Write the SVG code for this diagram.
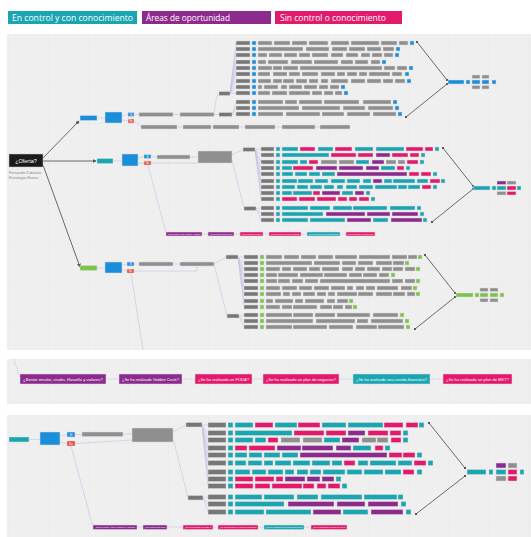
<svg xmlns="http://www.w3.org/2000/svg" width="531" height="537" viewBox="0 0 531 537">
<defs>
<style>
.t{fill:#1aa5b3}.p{fill:#8d2a8e}.k{fill:#e3196b}.g{fill:#8f8f8f}.l{fill:#777}.b{fill:#1a8ddb}.r{fill:#e8473a}.n{fill:#7cc34a}
.row rect,.box{stroke:#dcdcdc;stroke-width:.5}
.lc{stroke:#c3c3e6;stroke-width:.6;fill:none}
.dc{stroke:#c3c3e6;stroke-width:.9;stroke-dasharray:1.2 1;fill:none}
.mc{stroke:#5a5a5a;stroke-width:.9;fill:none}
.wt{fill:#fff;font-family:"Liberation Sans",Arial,sans-serif}
.lg{fill:#fff;font-family:"Open Sans","Liberation Sans",sans-serif;font-size:9px}
</style>
<pattern id="grid" patternUnits="userSpaceOnUse" x="8" y="3" width="40" height="40"><path d="M0 0V40M0 0H40" stroke="#e2e2e2" stroke-width=".6" fill="none"/></pattern>
<marker id="ah" viewBox="0 0 6 6" refX="5" refY="3" markerUnits="userSpaceOnUse" markerWidth="4" markerHeight="4" orient="auto"><path d="M0 0L6 3L0 6z" fill="#555"/></marker>
<marker id="sq" viewBox="0 0 4 4" refX="2" refY="2" markerUnits="userSpaceOnUse" markerWidth="2.4" markerHeight="2.4"><rect width="4" height="4" fill="#555"/></marker>
</defs>
<rect width="531" height="537" fill="#fff"/>
<!-- legend -->
<g id="legend">
<rect class="t" x="8" y="11" width="129" height="13"/><text class="lg" x="12" y="20.5" textLength="121" lengthAdjust="spacingAndGlyphs">En control y con conocimiento</text>
<rect class="p" x="142" y="11" width="129" height="13"/><text class="lg" x="146" y="20.5" textLength="84" lengthAdjust="spacingAndGlyphs">Áreas de oportunidad</text>
<rect class="k" x="275" y="11" width="127" height="13"/><text class="lg" x="280" y="20.5" textLength="106" lengthAdjust="spacingAndGlyphs">Sin control o conocimiento</text>
</g>
<!-- panels -->
<rect x="7" y="34" width="524" height="316" fill="#efefef"/><rect x="7" y="34" width="524" height="316" fill="url(#grid)"/>
<rect x="7" y="359" width="524" height="45" fill="#efefef"/><rect x="7" y="359" width="524" height="45" fill="url(#grid)"/>
<rect x="7" y="415" width="524" height="122" fill="#efefef"/><rect x="7" y="415" width="524" height="122" fill="url(#grid)"/>

<g id="connectors">
<!-- main -->
<path class="mc" d="M43 158L79 121" marker-end="url(#ah)"/>
<path class="mc" d="M43 161H96" marker-end="url(#ah)"/>
<path class="mc" d="M43 165L80 267" marker-end="url(#ah)"/>
<!-- upper -->
<path class="lc" d="M97 118H105M122 116L128 114.5M122 120L128 121M134 114.5H139M173 114.5H180M214 114.5H219M214 114.5Q216 94 219 93.5M134 121L141 127M177 127H183M211 127H213M239 127H245M275 127H282M315 127H320"/>
<path class="lc" d="M230 93.5L236 43M230 93.5L236 49M230 93.5L236 55M230 93.5L236 62M230 93.5L236 68M230 93.5L236 74M230 93.5L236 81M230 93.5L236 87M230 93.5L236 93M232 114.5L236 102M232 114.5L236 108M232 114.5L236 114"/>
<path class="mc" d="M417 42L447 80" marker-start="url(#sq)" marker-end="url(#sq)"/>
<path class="mc" d="M406 117L447 84" marker-start="url(#sq)" marker-end="url(#sq)"/>
<!-- teal -->
<path class="lc" d="M113 161H122M138 158L144 156.5M138 163L144 163M151 156.5L157 157M190 157H198M151 163H198M148 165L166 233M232 155L243 149.5M232 160L244 208.5"/>
<path class="lc" d="M255 149.5L261 149M255 149.5L261 155M255 149.5L261 162M255 149.5L261 168M255 149.5L261 174M255 149.5L261 181M255 149.5L261 187M255 149.5L261 193M255 149.5L261 199M256 208.5L261 208M256 208.5L261 214M256 208.5L261 220"/>
<path class="dc" d="M202 234H208M234 234H240M263 234H269M301 234H307M340 234H346"/>
<path class="mc" d="M443 148L473 186" marker-start="url(#sq)" marker-end="url(#sq)"/>
<path class="mc" d="M432 222L473 189" marker-start="url(#sq)" marker-end="url(#sq)"/>
<!-- green -->
<path class="lc" d="M97 268H105M122 265L127 264M122 270L127 271M134 264H139M173 264H180M134 271H197V266M214 264L226 257M214 264L227 316M131 273L143 350"/>
<path class="lc" d="M238 257L244 257M238 257L244 263M238 257L244 269M238 257L244 275M238 257L244 281M238 257L244 288M238 257L244 294M238 257L244 301M238 257L244 307M239 316L244 315M239 316L244 321M239 316L244 327"/>
<path class="mc" d="M425 255L455 293" marker-start="url(#sq)" marker-end="url(#sq)"/>
<path class="mc" d="M415 329L455 297" marker-start="url(#sq)" marker-end="url(#sq)"/>
<!-- panel 2 -->
<path class="dc" d="M14 359L20 378M106 379H119M182 379H195M252 379H263M339 379H353M430 379H443"/>
<!-- panel 3 -->
<path class="lc" d="M29 439.5H40M60 436L67 434.5M60 442L67 443.5M75 434.5H82M123 434H132M75 443.5L132 440M71 446L93 527M173 432L186 425M173 438L188 498"/>
<path class="lc" d="M202 425L208 425M202 425L208 433M202 425L208 440M202 425L208 448M202 425L208 455M202 425L208 463M202 425L208 472M202 425L208 479M202 425L208 486M203 498L208 497M203 498L208 504M203 498L208 512"/>
<path class="dc" d="M137 527H143M167 527H183M213 527H218M258 527H264M304 527H311"/>
<path class="mc" d="M429 423L465 468" marker-start="url(#sq)" marker-end="url(#sq)"/>
<path class="mc" d="M416 514L465 476" marker-start="url(#sq)" marker-end="url(#sq)"/>
</g>

<!-- root -->
<g id="oferta">
<rect x="9" y="154" width="34" height="13" fill="#1b1b1b" stroke="#ccc" stroke-width=".5"/>
<text class="wt" x="26" y="162.5" font-size="5.5" text-anchor="middle">¿Oferta?</text>
<text x="9" y="174" font-size="3.8" fill="#8a8a8a" font-family="Liberation Sans,Arial,sans-serif">Fernando Zubiarán</text>
<text x="9" y="179" font-size="3.8" fill="#8a8a8a" font-family="Liberation Sans,Arial,sans-serif">Estrategia Nueva</text>
</g>

<!-- UPPER (blue) branch -->
<g id="upper-node"><rect class="b box" x="80" y="115.5" width="17" height="5"/></g>
<g id="upper-q"><rect class="b box" x="105" y="112" width="17" height="11"/></g>
<g id="upper-si"><rect class="b box" x="128" y="112.5" width="6" height="4"/><text class="wt" x="131" y="115.6" font-size="2.8" text-anchor="middle">Sí</text></g>
<g id="upper-no"><rect class="r box" x="128" y="119" width="6" height="4"/><text class="wt" x="131" y="122.1" font-size="2.8" text-anchor="middle">No</text></g>
<g id="upper-chain" class="row"><rect class="g" x="139" y="112.5" width="34" height="4"/><rect class="g" x="180" y="112.5" width="34" height="4"/><rect class="l" x="219" y="112.5" width="13" height="4"/><rect class="l" x="219" y="91.5" width="11" height="4"/></g>
<g id="upper-no-chain" class="row"><rect class="g" x="141" y="125" width="36" height="4"/><rect class="g" x="183" y="125" width="28" height="4"/><rect class="g" x="213" y="125" width="26" height="4"/><rect class="g" x="245" y="125" width="30" height="4"/><rect class="g" x="282" y="125" width="33" height="4"/><rect class="g" x="320" y="125" width="30" height="4"/></g>
<g id="u1" class="row" transform="translate(0,41)"><rect class="l" x="236" width="14" height="4"/><rect class="b" x="252" width="4" height="4"/><rect class="g" x="258" width="14" height="4"/><rect class="g" x="274" width="16" height="4"/><rect class="g" x="292" width="15" height="4"/><rect class="g" x="309" width="19" height="4"/><rect class="g" x="331" width="18" height="4"/><rect class="g" x="351" width="28" height="4"/><rect class="g" x="381" width="16" height="4"/><rect class="g" x="399" width="9" height="4"/><rect class="b" x="410" width="4" height="4"/></g>
<g id="u2" class="row" transform="translate(0,47)"><rect class="l" x="236" width="14" height="4"/><rect class="b" x="252" width="4" height="4"/><rect class="g" x="258" width="45" height="4"/><rect class="g" x="306" width="23" height="4"/><rect class="g" x="332" width="15" height="4"/><rect class="g" x="349" width="16" height="4"/><rect class="g" x="367" width="14" height="4"/><rect class="g" x="383" width="11" height="4"/><rect class="b" x="396" width="4" height="4"/></g>
<g id="u3" class="row" transform="translate(0,53)"><rect class="l" x="236" width="14" height="4"/><rect class="b" x="252" width="4" height="4"/><rect class="g" x="258" width="9" height="4"/><rect class="g" x="269" width="13" height="4"/><rect class="g" x="284" width="13" height="4"/><rect class="g" x="299" width="11" height="4"/><rect class="g" x="312" width="16" height="4"/><rect class="g" x="331" width="12" height="4"/><rect class="g" x="346" width="12" height="4"/><rect class="g" x="361" width="9" height="4"/><rect class="g" x="372" width="10" height="4"/><rect class="g" x="384" width="9" height="4"/><rect class="b" x="395" width="4" height="4"/></g>
<g id="u4" class="row" transform="translate(0,60)"><rect class="l" x="236" width="14" height="4"/><rect class="b" x="252" width="4" height="4"/><rect class="g" x="258" width="8" height="4"/><rect class="g" x="268" width="20" height="4"/><rect class="g" x="291" width="21" height="4"/><rect class="g" x="314" width="24" height="4"/><rect class="g" x="341" width="12" height="4"/><rect class="g" x="355" width="13" height="4"/><rect class="g" x="371" width="9" height="4"/><rect class="b" x="382" width="4" height="4"/></g>
<g id="u5" class="row" transform="translate(0,66)"><rect class="l" x="236" width="14" height="4"/><rect class="b" x="252" width="4" height="4"/><rect class="g" x="258" width="14" height="4"/><rect class="g" x="273" width="9" height="4"/><rect class="g" x="283" width="15" height="4"/><rect class="g" x="300" width="82" height="4"/><rect class="g" x="384" width="11" height="4"/><rect class="g" x="397" width="10" height="4"/><rect class="b" x="409" width="4" height="4"/></g>
<g id="u6" class="row" transform="translate(0,72)"><rect class="l" x="236" width="14" height="4"/><rect class="b" x="252" width="4" height="4"/><rect class="g" x="258" width="12" height="4"/><rect class="g" x="273" width="14" height="4"/><rect class="g" x="289" width="11" height="4"/><rect class="g" x="302" width="16" height="4"/><rect class="g" x="321" width="14" height="4"/><rect class="g" x="337" width="8" height="4"/><rect class="g" x="347" width="10" height="4"/><rect class="g" x="359" width="8" height="4"/><rect class="g" x="369" width="21" height="4"/><rect class="g" x="392" width="10" height="4"/><rect class="b" x="405" width="4" height="4"/></g>
<g id="u7" class="row" transform="translate(0,79)"><rect class="l" x="236" width="14" height="4"/><rect class="b" x="252" width="4" height="4"/><rect class="g" x="258" width="13" height="4"/><rect class="g" x="273" width="9" height="4"/><rect class="g" x="283" width="11" height="4"/><rect class="g" x="296" width="11" height="4"/><rect class="g" x="309" width="9" height="4"/><rect class="g" x="321" width="7" height="4"/><rect class="g" x="331" width="17" height="4"/><rect class="g" x="351" width="14" height="4"/><rect class="g" x="367" width="14" height="4"/><rect class="g" x="383" width="10" height="4"/><rect class="g" x="395" width="10" height="4"/><rect class="b" x="407" width="4" height="4"/></g>
<g id="u8" class="row" transform="translate(0,85)"><rect class="l" x="236" width="14" height="4"/><rect class="b" x="252" width="4" height="4"/><rect class="g" x="258" width="4" height="4"/><rect class="g" x="264" width="14" height="4"/><rect class="g" x="281" width="6" height="4"/><rect class="g" x="289" width="13" height="4"/><rect class="g" x="304" width="13" height="4"/><rect class="g" x="319" width="9" height="4"/><rect class="g" x="330" width="9" height="4"/><rect class="b" x="341" width="4" height="4"/></g>
<g id="u9" class="row" transform="translate(0,91)"><rect class="l" x="236" width="14" height="4"/><rect class="b" x="252" width="4" height="4"/><rect class="g" x="258" width="12" height="4"/><rect class="g" x="272" width="15" height="4"/><rect class="g" x="289" width="21" height="4"/><rect class="g" x="312" width="10" height="4"/><rect class="g" x="324" width="9" height="4"/><rect class="g" x="335" width="7" height="4"/><rect class="b" x="344" width="4" height="4"/></g>
<g id="u10" class="row" transform="translate(0,100)"><rect class="l" x="236" width="14" height="4"/><rect class="b" x="252" width="4" height="4"/><rect class="g" x="258" width="25" height="4"/><rect class="g" x="285" width="12" height="4"/><rect class="g" x="299" width="23" height="4"/><rect class="g" x="324" width="35" height="4"/><rect class="g" x="363" width="28" height="4"/><rect class="b" x="393" width="4" height="4"/></g>
<g id="u11" class="row" transform="translate(0,106)"><rect class="l" x="236" width="14" height="4"/><rect class="b" x="252" width="4" height="4"/><rect class="g" x="258" width="41" height="4"/><rect class="g" x="302" width="38" height="4"/><rect class="g" x="343" width="22" height="4"/><rect class="g" x="368" width="25" height="4"/><rect class="b" x="395" width="4" height="4"/></g>
<g id="u12" class="row" transform="translate(0,112)"><rect class="l" x="236" width="14" height="4"/><rect class="b" x="252" width="4" height="4"/><rect class="g" x="258" width="25" height="4"/><rect class="g" x="286" width="34" height="4"/><rect class="g" x="322" width="22" height="4"/><rect class="g" x="347" width="23" height="4"/><rect class="g" x="373" width="23" height="4"/><rect class="b" x="398" width="4" height="4"/></g>
<g id="upper-summary" class="row"><rect class="b" x="448" y="80" width="16" height="4"/><rect class="b" x="466" y="80" width="4" height="4"/><rect class="g" x="472" y="75" width="8" height="3.5"/><rect class="g" x="482" y="75" width="7" height="3.5"/><rect class="b" x="472" y="80" width="8" height="4"/><rect class="b" x="482" y="80" width="7" height="4"/><rect class="g" x="472" y="85.5" width="8" height="3.5"/><rect class="g" x="482" y="85.5" width="7" height="3.5"/><rect class="b" x="492" y="80" width="4" height="4"/></g>

<!-- MIDDLE (teal) branch -->
<g id="mid-node"><rect class="t box" x="97" y="158.5" width="16" height="5"/></g>
<g id="mid-q"><rect class="b box" x="122" y="154" width="16" height="12"/></g>
<g id="mid-si"><rect class="b box" x="144" y="154.5" width="7" height="4"/><text class="wt" x="147.5" y="157.6" font-size="2.8" text-anchor="middle">Sí</text></g>
<g id="mid-no"><rect class="r box" x="144" y="161" width="7" height="4"/><text class="wt" x="147.5" y="164.1" font-size="2.8" text-anchor="middle">No</text></g>
<g id="mid-chain" class="row"><rect class="g" x="157" y="155" width="33" height="4"/><rect class="g" x="198" y="151" width="34" height="12"/><rect class="l" x="243" y="147.5" width="12" height="4"/><rect class="l" x="244" y="206.5" width="12" height="4"/></g>
<g id="s1" class="row" transform="translate(0,147)"><rect class="l" x="261" width="13" height="4"/><rect class="t" x="276" width="4" height="4"/><rect class="t" x="282" width="16" height="4"/><rect class="k" x="300" width="15" height="4"/><rect class="t" x="318" width="15" height="4"/><rect class="k" x="335" width="17" height="4"/><rect class="t" x="355" width="18" height="4"/><rect class="t" x="376" width="28" height="4"/><rect class="k" x="406" width="17" height="4"/><rect class="k" x="425" width="8" height="4"/><rect class="t" x="435" width="4" height="4"/></g>
<g id="s2" class="row" transform="translate(0,153)"><rect class="l" x="261" width="13" height="4"/><rect class="t" x="276" width="4" height="4"/><rect class="t" x="282" width="47" height="4"/><rect class="k" x="331" width="25" height="4"/><rect class="k" x="358" width="15" height="4"/><rect class="p" x="376" width="14" height="4"/><rect class="k" x="392" width="16" height="4"/><rect class="k" x="410" width="9" height="4"/><rect class="t" x="421" width="4" height="4"/></g>
<g id="s3" class="row" transform="translate(0,160)"><rect class="l" x="261" width="13" height="4"/><rect class="t" x="276" width="4" height="4"/><rect class="t" x="282" width="16" height="4"/><rect class="t" x="300" width="7" height="4"/><rect class="k" x="309" width="9" height="4"/><rect class="g" x="321" width="16" height="4"/><rect class="g" x="339" width="15" height="4"/><rect class="t" x="356" width="13" height="4"/><rect class="p" x="372" width="12" height="4"/><rect class="g" x="386" width="10" height="4"/><rect class="g" x="398" width="7" height="4"/><rect class="k" x="407" width="11" height="4"/><rect class="t" x="420" width="4" height="4"/></g>
<g id="s4" class="row" transform="translate(0,166)"><rect class="l" x="261" width="13" height="4"/><rect class="t" x="276" width="4" height="4"/><rect class="t" x="282" width="10" height="4"/><rect class="k" x="293" width="20" height="4"/><rect class="p" x="316" width="21" height="4"/><rect class="p" x="339" width="24" height="4"/><rect class="p" x="366" width="13" height="4"/><rect class="t" x="381" width="14" height="4"/><rect class="k" x="397" width="7" height="4"/><rect class="t" x="406" width="4" height="4"/></g>
<g id="s5" class="row" transform="translate(0,172)"><rect class="l" x="261" width="13" height="4"/><rect class="t" x="276" width="4" height="4"/><rect class="t" x="282" width="11" height="4"/><rect class="t" x="295" width="12" height="4"/><rect class="t" x="309" width="11" height="4"/><rect class="t" x="322" width="13" height="4"/><rect class="p" x="337" width="70" height="4"/><rect class="k" x="409" width="10" height="4"/><rect class="k" x="421" width="10" height="4"/><rect class="t" x="433" width="4" height="4"/></g>
<g id="s6" class="row" transform="translate(0,179)"><rect class="l" x="261" width="13" height="4"/><rect class="t" x="276" width="4" height="4"/><rect class="t" x="282" width="15" height="4"/><rect class="t" x="298" width="15" height="4"/><rect class="t" x="315" width="13" height="4"/><rect class="t" x="331" width="14" height="4"/><rect class="t" x="347" width="13" height="4"/><rect class="t" x="363" width="8" height="4"/><rect class="p" x="373" width="9" height="4"/><rect class="t" x="384" width="8" height="4"/><rect class="t" x="393" width="22" height="4"/><rect class="t" x="417" width="11" height="4"/><rect class="k" x="430" width="10" height="4"/><rect class="t" x="441" width="4" height="4"/></g>
<g id="s7" class="row" transform="translate(0,185)"><rect class="l" x="261" width="13" height="4"/><rect class="t" x="276" width="4" height="4"/><rect class="t" x="282" width="13" height="4"/><rect class="t" x="297" width="11" height="4"/><rect class="t" x="310" width="12" height="4"/><rect class="t" x="324" width="10" height="4"/><rect class="t" x="337" width="6" height="4"/><rect class="t" x="346" width="11" height="4"/><rect class="t" x="359" width="14" height="4"/><rect class="t" x="375" width="22" height="4"/><rect class="t" x="398" width="9" height="4"/><rect class="t" x="408" width="12" height="4"/><rect class="k" x="422" width="9" height="4"/><rect class="t" x="433" width="4" height="4"/></g>
<g id="s8" class="row" transform="translate(0,191)"><rect class="l" x="261" width="13" height="4"/><rect class="t" x="276" width="4" height="4"/><rect class="t" x="282" width="10" height="4"/><rect class="t" x="293" width="19" height="4"/><rect class="k" x="313" width="7" height="4"/><rect class="p" x="322" width="18" height="4"/><rect class="t" x="342" width="11" height="4"/><rect class="p" x="355" width="9" height="4"/><rect class="t" x="366" width="4" height="4"/></g>
<g id="s9" class="row" transform="translate(0,197)"><rect class="l" x="261" width="13" height="4"/><rect class="t" x="276" width="4" height="4"/><rect class="k" x="282" width="15" height="4"/><rect class="k" x="299" width="16" height="4"/><rect class="k" x="317" width="19" height="4"/><rect class="k" x="338" width="9" height="4"/><rect class="k" x="349" width="8" height="4"/><rect class="k" x="359" width="10" height="4"/><rect class="t" x="371" width="4" height="4"/></g>
<g id="s10" class="row" transform="translate(0,206)"><rect class="l" x="261" width="13" height="4"/><rect class="t" x="276" width="4" height="4"/><rect class="t" x="282" width="26" height="4"/><rect class="t" x="310" width="20" height="4"/><rect class="t" x="333" width="19" height="4"/><rect class="t" x="353" width="34" height="4"/><rect class="t" x="390" width="25" height="4"/><rect class="t" x="417" width="4" height="4"/></g>
<g id="s11" class="row" transform="translate(0,212)"><rect class="l" x="261" width="13" height="4"/><rect class="t" x="276" width="4" height="4"/><rect class="t" x="282" width="41" height="4"/><rect class="p" x="326" width="39" height="4"/><rect class="p" x="367" width="23" height="4"/><rect class="p" x="392" width="26" height="4"/><rect class="t" x="420" width="4" height="4"/></g>
<g id="s12" class="row" transform="translate(0,218)"><rect class="l" x="261" width="13" height="4"/><rect class="t" x="276" width="4" height="4"/><rect class="t" x="282" width="26" height="4"/><rect class="t" x="310" width="35" height="4"/><rect class="p" x="347" width="24" height="4"/><rect class="t" x="373" width="15" height="4"/><rect class="p" x="391" width="31" height="4"/><rect class="t" x="423" width="4" height="4"/></g>
<g id="mid-summary" class="row"><rect class="t" x="473" y="186" width="17" height="4"/><rect class="t" x="492" y="186" width="4" height="4"/><rect class="p" x="497" y="181" width="9" height="3.5"/><rect class="g" x="507" y="181" width="9" height="3.5"/><rect class="t" x="497" y="186" width="9" height="4"/><rect class="k" x="507" y="186" width="9" height="4"/><rect class="g" x="497" y="191.5" width="9" height="3.5"/><rect class="k" x="507" y="191.5" width="9" height="3.5"/><rect class="t" x="517" y="186" width="4" height="4"/></g>
<g id="mid-no-row" class="row">
<rect class="p" x="166" y="232" width="36" height="4"/><text class="wt" x="184" y="234.7" font-size="1.8" text-anchor="middle" textLength="33" lengthAdjust="spacingAndGlyphs">¿Existe misión, visión, filosofía y valores?</text>
<rect class="p" x="208" y="232" width="26" height="4"/><text class="wt" x="221" y="234.7" font-size="1.8" text-anchor="middle" textLength="23" lengthAdjust="spacingAndGlyphs">¿Se ha realizado Golden Circle?</text>
<rect class="k" x="240" y="232" width="23" height="4"/><text class="wt" x="251.5" y="234.7" font-size="1.8" text-anchor="middle" textLength="20" lengthAdjust="spacingAndGlyphs">¿Se ha realizado un FODA?</text>
<rect class="k" x="269" y="232" width="32" height="4"/><text class="wt" x="285" y="234.7" font-size="1.8" text-anchor="middle" textLength="29" lengthAdjust="spacingAndGlyphs">¿Se ha realizado un plan de negocios?</text>
<rect class="t" x="307" y="232" width="33" height="4"/><text class="wt" x="323.5" y="234.7" font-size="1.8" text-anchor="middle" textLength="30" lengthAdjust="spacingAndGlyphs">¿Se ha realizado una corrida financiera?</text>
<rect class="k" x="346" y="232" width="29" height="4"/><text class="wt" x="360.5" y="234.7" font-size="1.8" text-anchor="middle" textLength="26" lengthAdjust="spacingAndGlyphs">¿Se ha realizado un plan de MKT?</text>
</g>

<!-- LOWER (green) branch -->
<g id="low-node"><rect class="n box" x="80" y="265.5" width="17" height="5"/></g>
<g id="low-q"><rect class="b box" x="105" y="262" width="17" height="11"/></g>
<g id="low-si"><rect class="b box" x="127" y="262" width="7" height="4"/><text class="wt" x="130.5" y="265.1" font-size="2.8" text-anchor="middle">Sí</text></g>
<g id="low-no"><rect class="r box" x="127" y="269" width="7" height="4"/><text class="wt" x="130.5" y="272.1" font-size="2.8" text-anchor="middle">No</text></g>
<g id="low-chain" class="row"><rect class="g" x="139" y="262" width="34" height="4"/><rect class="g" x="180" y="262" width="34" height="4"/><rect class="l" x="226" y="255" width="12" height="4"/><rect class="l" x="227" y="314" width="12" height="4"/></g>
<g id="r1" class="row" transform="translate(0,255)"><rect class="l" x="244" width="14" height="4"/><rect class="n" x="260" width="4" height="4"/><rect class="g" x="266" width="16" height="4"/><rect class="g" x="284" width="15" height="4"/><rect class="g" x="301" width="15" height="4"/><rect class="g" x="318" width="15" height="4"/><rect class="g" x="335" width="22" height="4"/><rect class="g" x="359" width="31" height="4"/><rect class="g" x="392" width="15" height="4"/><rect class="g" x="408" width="9" height="4"/><rect class="n" x="418" width="4" height="4"/></g>
<g id="r2" class="row" transform="translate(0,261)"><rect class="l" x="244" width="14" height="4"/><rect class="n" x="260" width="4" height="4"/><rect class="g" x="266" width="46" height="4"/><rect class="g" x="314" width="26" height="4"/><rect class="g" x="342" width="14" height="4"/><rect class="g" x="358" width="15" height="4"/><rect class="g" x="376" width="16" height="4"/><rect class="g" x="393" width="11" height="4"/><rect class="n" x="405" width="4" height="4"/></g>
<g id="r3" class="row" transform="translate(0,267)"><rect class="l" x="244" width="14" height="4"/><rect class="n" x="260" width="4" height="4"/><rect class="g" x="266" width="14" height="4"/><rect class="g" x="282" width="9" height="4"/><rect class="g" x="293" width="14" height="4"/><rect class="g" x="309" width="11" height="4"/><rect class="g" x="322" width="17" height="4"/><rect class="g" x="342" width="11" height="4"/><rect class="g" x="355" width="10" height="4"/><rect class="g" x="367" width="13" height="4"/><rect class="g" x="382" width="10" height="4"/><rect class="g" x="393" width="10" height="4"/><rect class="g" x="405" width="10" height="4"/><rect class="n" x="416" width="4" height="4"/></g>
<g id="r4" class="row" transform="translate(0,273)"><rect class="l" x="244" width="14" height="4"/><rect class="n" x="260" width="4" height="4"/><rect class="g" x="266" width="11" height="4"/><rect class="g" x="278" width="20" height="4"/><rect class="g" x="300" width="23" height="4"/><rect class="g" x="324" width="23" height="4"/><rect class="g" x="349" width="13" height="4"/><rect class="g" x="363" width="14" height="4"/><rect class="g" x="379" width="10" height="4"/><rect class="n" x="391" width="4" height="4"/></g>
<g id="r5" class="row" transform="translate(0,279)"><rect class="l" x="244" width="14" height="4"/><rect class="n" x="260" width="4" height="4"/><rect class="g" x="266" width="11" height="4"/><rect class="g" x="278" width="12" height="4"/><rect class="g" x="292" width="11" height="4"/><rect class="g" x="305" width="13" height="4"/><rect class="g" x="320" width="70" height="4"/><rect class="g" x="392" width="11" height="4"/><rect class="g" x="405" width="10" height="4"/><rect class="n" x="416" width="4" height="4"/></g>
<g id="r6" class="row" transform="translate(0,286)"><rect class="l" x="244" width="14" height="4"/><rect class="n" x="260" width="4" height="4"/><rect class="g" x="266" width="14" height="4"/><rect class="g" x="282" width="15" height="4"/><rect class="g" x="299" width="13" height="4"/><rect class="g" x="314" width="15" height="4"/><rect class="g" x="331" width="14" height="4"/><rect class="g" x="347" width="6" height="4"/><rect class="g" x="356" width="8" height="4"/><rect class="g" x="366" width="9" height="4"/><rect class="g" x="377" width="21" height="4"/><rect class="g" x="401" width="11" height="4"/><rect class="n" x="413" width="4" height="4"/></g>
<g id="r7" class="row" transform="translate(0,292)"><rect class="l" x="244" width="14" height="4"/><rect class="n" x="260" width="4" height="4"/><rect class="g" x="266" width="15" height="4"/><rect class="g" x="283" width="7" height="4"/><rect class="g" x="292" width="9" height="4"/><rect class="g" x="303" width="12" height="4"/><rect class="g" x="317" width="9" height="4"/><rect class="g" x="328" width="7" height="4"/><rect class="g" x="337" width="20" height="4"/><rect class="g" x="358" width="15" height="4"/><rect class="g" x="376" width="16" height="4"/><rect class="g" x="393" width="12" height="4"/><rect class="g" x="407" width="8" height="4"/><rect class="n" x="416" width="4" height="4"/></g>
<g id="r8" class="row" transform="translate(0,299)"><rect class="l" x="244" width="14" height="4"/><rect class="n" x="260" width="4" height="4"/><rect class="g" x="266" width="7" height="4"/><rect class="g" x="275" width="18" height="4"/><rect class="g" x="295" width="8" height="4"/><rect class="g" x="305" width="19" height="4"/><rect class="g" x="327" width="8" height="4"/><rect class="g" x="337" width="11" height="4"/><rect class="n" x="349" width="4" height="4"/></g>
<g id="r9" class="row" transform="translate(0,305)"><rect class="l" x="244" width="14" height="4"/><rect class="n" x="260" width="4" height="4"/><rect class="g" x="266" width="14" height="4"/><rect class="g" x="282" width="10" height="4"/><rect class="g" x="293" width="24" height="4"/><rect class="g" x="320" width="12" height="4"/><rect class="g" x="333" width="10" height="4"/><rect class="g" x="345" width="7" height="4"/><rect class="n" x="353" width="4" height="4"/></g>
<g id="r10" class="row" transform="translate(0,313)"><rect class="l" x="244" width="14" height="4"/><rect class="n" x="260" width="4" height="4"/><rect class="g" x="266" width="26" height="4"/><rect class="g" x="293" width="20" height="4"/><rect class="g" x="315" width="20" height="4"/><rect class="g" x="337" width="33" height="4"/><rect class="g" x="373" width="25" height="4"/><rect class="n" x="400" width="4" height="4"/></g>
<g id="r11" class="row" transform="translate(0,319)"><rect class="l" x="244" width="14" height="4"/><rect class="n" x="260" width="4" height="4"/><rect class="g" x="266" width="47" height="4"/><rect class="g" x="316" width="39" height="4"/><rect class="g" x="357" width="11" height="4"/><rect class="g" x="371" width="32" height="4"/><rect class="n" x="405" width="4" height="4"/></g>
<g id="r12" class="row" transform="translate(0,325)"><rect class="l" x="244" width="14" height="4"/><rect class="n" x="260" width="4" height="4"/><rect class="g" x="266" width="26" height="4"/><rect class="g" x="293" width="34" height="4"/><rect class="g" x="329" width="24" height="4"/><rect class="g" x="356" width="21" height="4"/><rect class="g" x="378" width="26" height="4"/><rect class="n" x="406" width="4" height="4"/></g>
<g id="low-summary" class="row"><rect class="n" x="456" y="293" width="17" height="4"/><rect class="n" x="475" y="293" width="4" height="4"/><rect class="g" x="480" y="288" width="8" height="3.5"/><rect class="g" x="490" y="288" width="8" height="3.5"/><rect class="n" x="480" y="293" width="8" height="4"/><rect class="n" x="490" y="293" width="8" height="4"/><rect class="g" x="480" y="298.5" width="8" height="3.5"/><rect class="g" x="490" y="298.5" width="8" height="3.5"/><rect class="n" x="500" y="293" width="4" height="4"/></g>

<!-- PANEL 2 -->
<g id="p2-1"><rect class="p box" x="20" y="374" width="86" height="10"/><text class="wt" x="63" y="380.5" font-size="4.4" text-anchor="middle" textLength="80" lengthAdjust="spacingAndGlyphs">¿Existe misión, visión, filosofía y valores?</text></g>
<g id="p2-2"><rect class="p box" x="119" y="374" width="63" height="10"/><text class="wt" x="150.5" y="380.5" font-size="4.4" text-anchor="middle" textLength="57" lengthAdjust="spacingAndGlyphs">¿Se ha realizado Golden Circle?</text></g>
<g id="p2-3"><rect class="k box" x="195" y="374" width="57" height="10"/><text class="wt" x="223.5" y="380.5" font-size="4.4" text-anchor="middle" textLength="51" lengthAdjust="spacingAndGlyphs">¿Se ha realizado un FODA?</text></g>
<g id="p2-4"><rect class="k box" x="263" y="374" width="76" height="10"/><text class="wt" x="301" y="380.5" font-size="4.4" text-anchor="middle" textLength="70" lengthAdjust="spacingAndGlyphs">¿Se ha realizado un plan de negocios?</text></g>
<g id="p2-5"><rect class="t box" x="353" y="374" width="77" height="10"/><text class="wt" x="391.5" y="380.5" font-size="4.4" text-anchor="middle" textLength="71" lengthAdjust="spacingAndGlyphs">¿Se ha realizado una corrida financiera?</text></g>
<g id="p2-6"><rect class="k box" x="443" y="374" width="69" height="10"/><text class="wt" x="477.5" y="380.5" font-size="4.4" text-anchor="middle" textLength="63" lengthAdjust="spacingAndGlyphs">¿Se ha realizado un plan de MKT?</text></g>

<!-- PANEL 3 -->
<g id="p3-node"><rect class="t box" x="9" y="437" width="20" height="5"/></g>
<g id="p3-q"><rect class="b box" x="40" y="432" width="20" height="13"/></g>
<g id="p3-si"><rect class="b box" x="67" y="432" width="8" height="5"/><text class="wt" x="71" y="435.7" font-size="3" text-anchor="middle">Sí</text></g>
<g id="p3-no"><rect class="r box" x="67" y="441" width="8" height="5"/><text class="wt" x="71" y="444.7" font-size="3" text-anchor="middle">No</text></g>
<g id="p3-chain" class="row"><rect class="g" x="82" y="432" width="41" height="4.5"/><rect class="g" x="132" y="428" width="41" height="14"/><rect class="l" x="186" y="422.5" width="16" height="4.5"/><rect class="l" x="188" y="495.5" width="15" height="4.5"/></g>
<g id="q1" class="row" transform="translate(0,422.5)"><rect class="l" x="208" width="18" height="5"/><rect class="t" x="228" width="5" height="5"/><rect class="t" x="235" width="18" height="5"/><rect class="k" x="255" width="18" height="5"/><rect class="t" x="275" width="22" height="5"/><rect class="k" x="298" width="22" height="5"/><rect class="t" x="322" width="24" height="5"/><rect class="t" x="348" width="35" height="5"/><rect class="k" x="384" width="19" height="5"/><rect class="k" x="406" width="12" height="5"/><rect class="t" x="419" width="5" height="5"/></g>
<g id="q2" class="row" transform="translate(0,430.5)"><rect class="l" x="208" width="18" height="5"/><rect class="t" x="228" width="5" height="5"/><rect class="t" x="235" width="57" height="5"/><rect class="k" x="294" width="30" height="5"/><rect class="k" x="326" width="20" height="5"/><rect class="p" x="348" width="17" height="5"/><rect class="k" x="368" width="20" height="5"/><rect class="k" x="390" width="11" height="5"/><rect class="t" x="403" width="5" height="5"/></g>
<g id="q3" class="row" transform="translate(0,437.5)"><rect class="l" x="208" width="18" height="5"/><rect class="t" x="228" width="5" height="5"/><rect class="t" x="235" width="18" height="5"/><rect class="t" x="255" width="11" height="5"/><rect class="k" x="268" width="10" height="5"/><rect class="g" x="281" width="19" height="5"/><rect class="g" x="303" width="19" height="5"/><rect class="t" x="324" width="16" height="5"/><rect class="p" x="342" width="17" height="5"/><rect class="g" x="362" width="14" height="5"/><rect class="g" x="377" width="11" height="5"/><rect class="k" x="391" width="10" height="5"/><rect class="t" x="403" width="5" height="5"/></g>
<g id="q4" class="row" transform="translate(0,445.5)"><rect class="l" x="208" width="18" height="5"/><rect class="t" x="228" width="5" height="5"/><rect class="k" x="235" width="12" height="5"/><rect class="k" x="249" width="26" height="5"/><rect class="p" x="277" width="24" height="5"/><rect class="p" x="302" width="31" height="5"/><rect class="p" x="336" width="15" height="5"/><rect class="t" x="353" width="18" height="5"/><rect class="k" x="375" width="8" height="5"/><rect class="t" x="385" width="5" height="5"/></g>
<g id="q5" class="row" transform="translate(0,452.5)"><rect class="l" x="208" width="18" height="5"/><rect class="t" x="228" width="5" height="5"/><rect class="t" x="235" width="12" height="5"/><rect class="t" x="249" width="13" height="5"/><rect class="t" x="264" width="16" height="5"/><rect class="t" x="282" width="16" height="5"/><rect class="p" x="300" width="87" height="5"/><rect class="k" x="389" width="13" height="5"/><rect class="k" x="403" width="12" height="5"/><rect class="t" x="417" width="5" height="5"/></g>
<g id="q6" class="row" transform="translate(0,460.5)"><rect class="l" x="208" width="18" height="5"/><rect class="t" x="228" width="5" height="5"/><rect class="t" x="235" width="11" height="5"/><rect class="t" x="248" width="14" height="5"/><rect class="t" x="264" width="9" height="5"/><rect class="t" x="275" width="16" height="5"/><rect class="t" x="293" width="17" height="5"/><rect class="t" x="312" width="18" height="5"/><rect class="t" x="332" width="10" height="5"/><rect class="k" x="344" width="11" height="5"/><rect class="t" x="358" width="10" height="5"/><rect class="t" x="370" width="26" height="5"/><rect class="t" x="398" width="14" height="5"/><rect class="k" x="414" width="12" height="5"/><rect class="t" x="428" width="5" height="5"/></g>
<g id="q7" class="row" transform="translate(0,469.5)"><rect class="l" x="208" width="18" height="5"/><rect class="t" x="228" width="5" height="5"/><rect class="t" x="235" width="15" height="5"/><rect class="t" x="252" width="14" height="5"/><rect class="t" x="268" width="15" height="5"/><rect class="t" x="285" width="9" height="5"/><rect class="t" x="297" width="11" height="5"/><rect class="t" x="310" width="11" height="5"/><rect class="t" x="323" width="22" height="5"/><rect class="t" x="347" width="15" height="5"/><rect class="t" x="364" width="19" height="5"/><rect class="t" x="385" width="16" height="5"/><rect class="k" x="403" width="11" height="5"/><rect class="t" x="417" width="5" height="5"/></g>
<g id="q8" class="row" transform="translate(0,476.5)"><rect class="l" x="208" width="18" height="5"/><rect class="t" x="228" width="5" height="5"/><rect class="k" x="235" width="18" height="5"/><rect class="k" x="255" width="19" height="5"/><rect class="k" x="276" width="7" height="5"/><rect class="p" x="285" width="20" height="5"/><rect class="p" x="307" width="13" height="5"/><rect class="p" x="322" width="12" height="5"/><rect class="t" x="336" width="5" height="5"/></g>
<g id="q9" class="row" transform="translate(0,483.5)"><rect class="l" x="208" width="18" height="5"/><rect class="t" x="228" width="5" height="5"/><rect class="k" x="235" width="18" height="5"/><rect class="k" x="255" width="15" height="5"/><rect class="k" x="272" width="30" height="5"/><rect class="k" x="303" width="11" height="5"/><rect class="k" x="317" width="9" height="5"/><rect class="k" x="328" width="12" height="5"/><rect class="t" x="342" width="5" height="5"/></g>
<g id="q10" class="row" transform="translate(0,494.5)"><rect class="l" x="208" width="18" height="5"/><rect class="t" x="228" width="5" height="5"/><rect class="t" x="235" width="27" height="5"/><rect class="t" x="264" width="30" height="5"/><rect class="t" x="297" width="21" height="5"/><rect class="t" x="321" width="41" height="5"/><rect class="t" x="364" width="33" height="5"/><rect class="t" x="398" width="5" height="5"/></g>
<g id="q11" class="row" transform="translate(0,501.5)"><rect class="l" x="208" width="18" height="5"/><rect class="t" x="228" width="5" height="5"/><rect class="t" x="235" width="49" height="5"/><rect class="p" x="288" width="46" height="5"/><rect class="p" x="337" width="28" height="5"/><rect class="p" x="368" width="30" height="5"/><rect class="t" x="401" width="5" height="5"/></g>
<g id="q12" class="row" transform="translate(0,509.5)"><rect class="l" x="208" width="18" height="5"/><rect class="t" x="228" width="5" height="5"/><rect class="t" x="235" width="29" height="5"/><rect class="t" x="266" width="45" height="5"/><rect class="p" x="313" width="28" height="5"/><rect class="t" x="343" width="25" height="5"/><rect class="p" x="371" width="32" height="5"/><rect class="t" x="406" width="5" height="5"/></g>
<g id="p3-summary" class="row"><rect class="t" x="467" y="469.5" width="19" height="5"/><rect class="t" x="489" y="469.5" width="4" height="5"/><rect class="p" x="496" y="463" width="10" height="5"/><rect class="g" x="508" y="463" width="9" height="5"/><rect class="t" x="496" y="469.5" width="10" height="5"/><rect class="k" x="508" y="469.5" width="9" height="5"/><rect class="g" x="496" y="476" width="10" height="5"/><rect class="k" x="508" y="476" width="9" height="5"/><rect class="t" x="520" y="469.5" width="4" height="5"/></g>
<g id="p3-no-row" class="row">
<rect class="p" x="93" y="525" width="44" height="4.5"/><text class="wt" x="115" y="528.2" font-size="2.1" text-anchor="middle" textLength="40" lengthAdjust="spacingAndGlyphs">¿Existe misión, visión, filosofía y valores?</text>
<rect class="p" x="143" y="525" width="24" height="4.5"/><text class="wt" x="155" y="528.2" font-size="1.6" text-anchor="middle" textLength="21" lengthAdjust="spacingAndGlyphs">¿Se ha realizado Golden Circle?</text>
<rect class="k" x="183" y="525" width="30" height="4.5"/><text class="wt" x="198" y="528.2" font-size="2.1" text-anchor="middle" textLength="27" lengthAdjust="spacingAndGlyphs">¿Se ha realizado un FODA?</text>
<rect class="k" x="218" y="525" width="40" height="4.5"/><text class="wt" x="238" y="528.2" font-size="2.1" text-anchor="middle" textLength="37" lengthAdjust="spacingAndGlyphs">¿Se ha realizado un plan de negocios?</text>
<rect class="t" x="264" y="525" width="40" height="4.5"/><text class="wt" x="284" y="528.2" font-size="2.0" text-anchor="middle" textLength="37" lengthAdjust="spacingAndGlyphs">¿Se ha realizado una corrida financiera?</text>
<rect class="k" x="311" y="525" width="36" height="4.5"/><text class="wt" x="329" y="528.2" font-size="2.1" text-anchor="middle" textLength="33" lengthAdjust="spacingAndGlyphs">¿Se ha realizado un plan de MKT?</text>
</g>
</svg>
